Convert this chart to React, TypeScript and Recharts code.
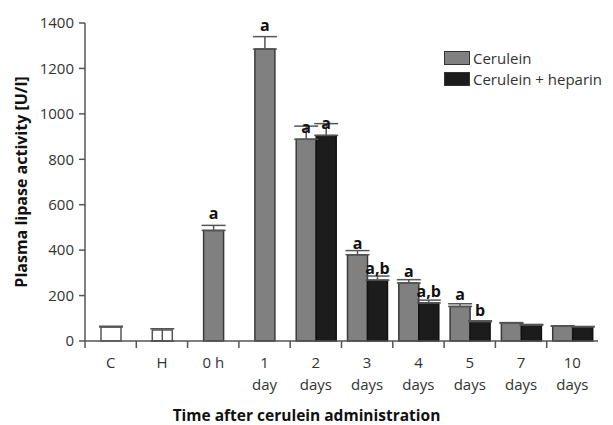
import { Bar, BarChart, Cell, ErrorBar, LabelList, Legend, XAxis, YAxis } from 'recharts';

// categorias e rótulos do eixo x (duas linhas)
const categories = ['C', 'H', '0 h', '1 day', '2 days', '3 days', '4 days', '5 days', '7 days', '10 days'];
const tickTop = ['C', 'H', '0 h', '1', '2', '3', '4', '5', '7', '10'];
const tickBottom = ['', '', '', 'day', 'days', 'days', 'days', 'days', 'days', 'days'];

// barras isoladas (controles e primeiros tempos)
const singleValues = [62, 48, 487, 1285, null, null, null, null, null, null];
const singleErrUp = [3, 6, 22, 55, null, null, null, null, null, null];
const singleErrDown = [0, 48, 0, 0, null, null, null, null, null, null];
const singleFills = ['#ffffff', '#ffffff', '#808080', '#808080'];
const singleStrokes = ['#555555', '#555555', '#3a3a3a', '#3a3a3a'];
const singleLabels = ['', '', 'a', 'a', '', '', '', '', '', ''];

const ceruleinValues = [null, null, null, null, 888, 380, 255, 152, 78, 65];
const ceruleinErr = [null, null, null, null, 58, 18, 15, 12, 3, 2];
const ceruleinLabels = ['', '', '', '', 'a', 'a', 'a', 'a', '', ''];

const heparinValues = [null, null, null, null, 905, 268, 167, 85, 70, 62];
const heparinErr = [null, null, null, null, 52, 18, 13, 4, 3, 2];
const heparinLabels = ['', '', '', '', 'a', 'a,b', 'a,b', 'b', '', ''];

const seriesNames = ['Cerulein', 'Cerulein + heparin'];
const yTicks = [0, 200, 400, 600, 800, 1000, 1200, 1400];

const W = 613;
const H = 425;
const M = { top: 23, right: 15, bottom: 0, left: 0 };
const Y_AXIS_W = 85;
const X_AXIS_H = 84;
const PLOT_W = W - M.left - M.right - Y_AXIS_W;
const PLOT_H = H - M.top - M.bottom - X_AXIS_H;
const PX = PLOT_H / 1400;
const FONT = '"Open Sans", "Noto Sans", sans-serif';
const GRAY = '#808080';
const BLACK = '#1c1c1c';
const AXIS = '#555555';

const data = categories.map((cat, i) => ({
  cat,
  single: singleValues[i],
  singleErr: singleValues[i] == null ? undefined : [singleErrDown[i], singleErrUp[i]],
  singleLabel: singleLabels[i],
  cerulein: ceruleinValues[i],
  ceruleinErr: ceruleinValues[i] == null ? undefined : [0, ceruleinErr[i]],
  ceruleinLabel: ceruleinLabels[i],
  heparin: heparinValues[i],
  heparinErr: heparinValues[i] == null ? undefined : [0, heparinErr[i]],
  heparinLabel: heparinLabels[i],
}));

function CatTick(props: any) {
  const { x, y, index } = props;
  const bw = PLOT_W / categories.length;
  return (
    <g>
      <line x1={x - bw / 2} x2={x - bw / 2} y1={y} y2={y + 7} stroke={AXIS} strokeWidth={1.5} />
      <text x={x} y={y + 27} textAnchor='middle' fontSize={15} fill='#333' fontFamily={FONT}>
        {tickTop[index]}
      </text>
      <text x={x} y={y + 49} textAnchor='middle' fontSize={15} fill='#333' fontFamily={FONT}>
        {tickBottom[index]}
      </text>
    </g>
  );
}

// rótulo de significância acima da barra de erro
function makeLabel(errs: (number | null)[]) {
  return (props: any) => {
    const { x, y, width, value, index } = props;
    if (!value) return null;
    const e = errs[index] ?? 0;
    return (
      <text
        x={Number(x) + Number(width) / 2}
        y={Number(y) - e * PX - 6}
        textAnchor='middle'
        fontSize={16}
        fontWeight='bold'
        fill='#111'
        fontFamily={FONT}
      >
        {value}
      </text>
    );
  };
}

function LegendBox() {
  const fills = [GRAY, BLACK];
  return (
    <div style={{ fontFamily: FONT, fontSize: 15, color: '#333', lineHeight: '20.5px' }}>
      {seriesNames.map((name, i) => (
        <div key={name} style={{ display: 'flex', alignItems: 'center', height: 20.5 }}>
          <span
            style={{
              display: 'inline-block',
              width: 24,
              height: 12,
              background: fills[i],
              border: '1px solid #333',
              marginRight: 3,
            }}
          />
          {name}
        </div>
      ))}
    </div>
  );
}

export default function App() {
  return (
    <div style={{ width: W, height: H, background: '#fff' }}>
      <style>{'body{margin:0}'}</style>
      <BarChart width={W} height={H} data={data} margin={M} barGap={0}>
        <XAxis
          xAxisId='pair'
          dataKey='cat'
          height={X_AXIS_H}
          interval={0}
          tickLine={false}
          tickSize={0}
          tickMargin={0}
          axisLine={{ stroke: AXIS, strokeWidth: 1.5 }}
          tick={<CatTick />}
          label={{
            content: () => (
              <text
                x={W / 2}
                y={H - 4}
                textAnchor='middle'
                fontSize={15.5}
                fontWeight='bold'
                fill='#111'
                fontFamily={FONT}
              >
                Time after cerulein administration
              </text>
            ),
          }}
        />
        <XAxis xAxisId='single' dataKey='cat' hide />
        <YAxis
          width={Y_AXIS_W}
          domain={[0, 1400]}
          ticks={yTicks}
          interval={0}
          tickSize={6}
          tickMargin={5}
          axisLine={{ stroke: AXIS, strokeWidth: 1.5 }}
          tickLine={{ stroke: AXIS, strokeWidth: 1.5 }}
          tick={{ fontSize: 15, fill: '#333', fontFamily: FONT }}
          label={{
            content: () => (
              <text
                x={0}
                y={0}
                transform={`translate(27, ${M.top + PLOT_H / 2}) rotate(-90)`}
                textAnchor='middle'
                fontSize={16}
                fontWeight='bold'
                fill='#111'
                fontFamily={FONT}
              >
                Plasma lipase activity [U/l]
              </text>
            ),
          }}
        />
        <Legend
          layout='horizontal'
          verticalAlign='middle'
          align='center'
          content={() => <LegendBox />}
          wrapperStyle={{ top: 48, left: 444, width: 170 }}
        />
        <Bar
          xAxisId='single'
          dataKey='single'
          barSize={20}
          strokeWidth={1.5}
          isAnimationActive={false}
          legendType='none'
        >
          {data.map((d, i) => (
            <Cell key={d.cat} fill={singleFills[i] ?? GRAY} stroke={singleStrokes[i] ?? AXIS} />
          ))}
          <ErrorBar dataKey='singleErr' width={12} stroke={AXIS} strokeWidth={1.5} />
          <LabelList dataKey='singleLabel' content={makeLabel(singleErrUp)} />
        </Bar>
        <Bar
          xAxisId='pair'
          dataKey='cerulein'
          name={seriesNames[0]}
          barSize={20}
          fill={GRAY}
          stroke='#3a3a3a'
          strokeWidth={1.5}
          isAnimationActive={false}
        >
          <ErrorBar dataKey='ceruleinErr' width={12} stroke={AXIS} strokeWidth={1.5} />
          <LabelList dataKey='ceruleinLabel' content={makeLabel(ceruleinErr)} />
        </Bar>
        <Bar
          xAxisId='pair'
          dataKey='heparin'
          name={seriesNames[1]}
          barSize={20}
          fill={BLACK}
          stroke='#111'
          strokeWidth={1.5}
          isAnimationActive={false}
        >
          <ErrorBar dataKey='heparinErr' width={12} stroke={AXIS} strokeWidth={1.5} />
          <LabelList dataKey='heparinLabel' content={makeLabel(heparinErr)} />
        </Bar>
      </BarChart>
    </div>
  );
}
